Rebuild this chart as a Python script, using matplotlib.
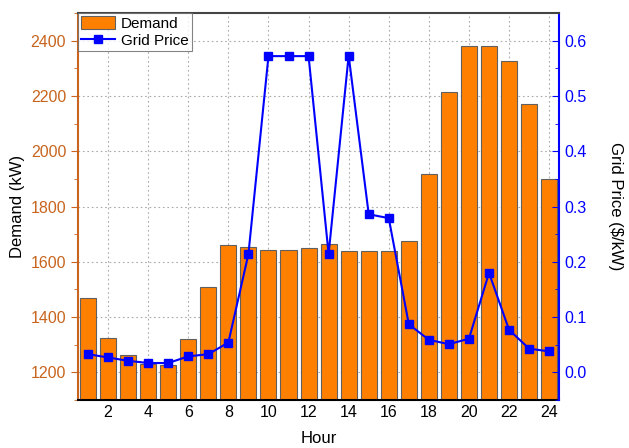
import matplotlib
matplotlib.use('Agg')
import matplotlib.pyplot as plt
from matplotlib.ticker import MultipleLocator

plt.rcParams['font.family'] = ['Liberation Sans', 'DejaVu Sans']

hours = list(range(1, 25))
demand = [1470, 1324, 1263, 1232, 1228, 1320, 1508, 1661, 1655, 1643, 1643, 1650,
          1664, 1638, 1638, 1638, 1674, 1918, 2215, 2382, 2382, 2325, 2170, 1900]
price = [0.033, 0.027, 0.021, 0.017, 0.017, 0.029, 0.033, 0.054, 0.214, 0.572, 0.572, 0.572,
         0.214, 0.573, 0.286, 0.279, 0.087, 0.059, 0.051, 0.061, 0.180, 0.077, 0.043, 0.038]

left_col = '#C8641E'
blue = '#0000FF'

fig = plt.figure(figsize=(6.29, 4.48), dpi=100)
ax = fig.add_axes([0.124, 0.107, 0.765, 0.864])
ax2 = ax.twinx()

bars = ax.bar(hours, demand, width=0.8, color='#FF8000', edgecolor='#606060', linewidth=0.8,
              label='Demand', zorder=2)
line, = ax2.plot(hours, price, '-s', color=blue, markersize=6, linewidth=1.5, label='Grid Price')

ax.set_xlim(0.5, 24.5)
ax.set_ylim(1100, 2500)
ax2.set_ylim(-0.05, 0.65)

ax.xaxis.set_major_locator(MultipleLocator(2))
ax.xaxis.set_minor_locator(MultipleLocator(1))
ax.yaxis.set_major_locator(MultipleLocator(200))
ax.yaxis.set_minor_locator(MultipleLocator(100))
ax2.yaxis.set_major_locator(MultipleLocator(0.1))
ax2.yaxis.set_minor_locator(MultipleLocator(0.05))
ax2.yaxis.set_major_formatter(plt.FormatStrFormatter('%.1f'))

ax.grid(True, which='major', linestyle=(0, (1.5, 2.5)), color='#AAAAAA', linewidth=0.8, zorder=0)
ax.set_axisbelow(True)

ax.tick_params(axis='x', which='both', direction='in', labelsize=11.5, length=5)
ax.tick_params(axis='x', which='minor', length=3)
ax.tick_params(axis='y', which='major', direction='out', colors=left_col, labelsize=11.5, length=5)
ax.tick_params(axis='y', which='minor', direction='out', colors=left_col, length=3)
ax2.tick_params(axis='y', which='major', direction='in', colors=blue, labelsize=11.5, length=5)
ax2.tick_params(axis='y', which='minor', direction='in', colors=blue, length=3)

ax.spines['left'].set_color(left_col)
ax.spines['left'].set_linewidth(1.5)
ax2.spines['left'].set_visible(False)
ax2.spines['right'].set_color(blue)
ax2.spines['right'].set_linewidth(1.5)
ax2.spines['top'].set_color('#444444')
ax2.spines['top'].set_linewidth(1.5)
ax.spines['top'].set_visible(False)
ax.spines['right'].set_visible(False)
ax2.spines['bottom'].set_visible(False)
ax.spines['bottom'].set_linewidth(1.5)

ax.set_xlabel('Hour', fontsize=12, labelpad=8)
ax.set_ylabel('Demand (kW)', fontsize=12, labelpad=4)
ax2.set_ylabel('Grid Price ($/kW)', fontsize=12, rotation=270, labelpad=26)

leg = ax2.legend([bars, line], ['Demand', 'Grid Price'], loc='upper left',
                 bbox_to_anchor=(0, 1), fontsize=11, frameon=True, fancybox=False,
                 edgecolor='#666666', borderpad=0.2, handlelength=2.2, handleheight=0.9,
                 handletextpad=0.4, labelspacing=0.15, borderaxespad=0)
leg.get_frame().set_linewidth(0.8)

fig.savefig('out.png', dpi=100)
